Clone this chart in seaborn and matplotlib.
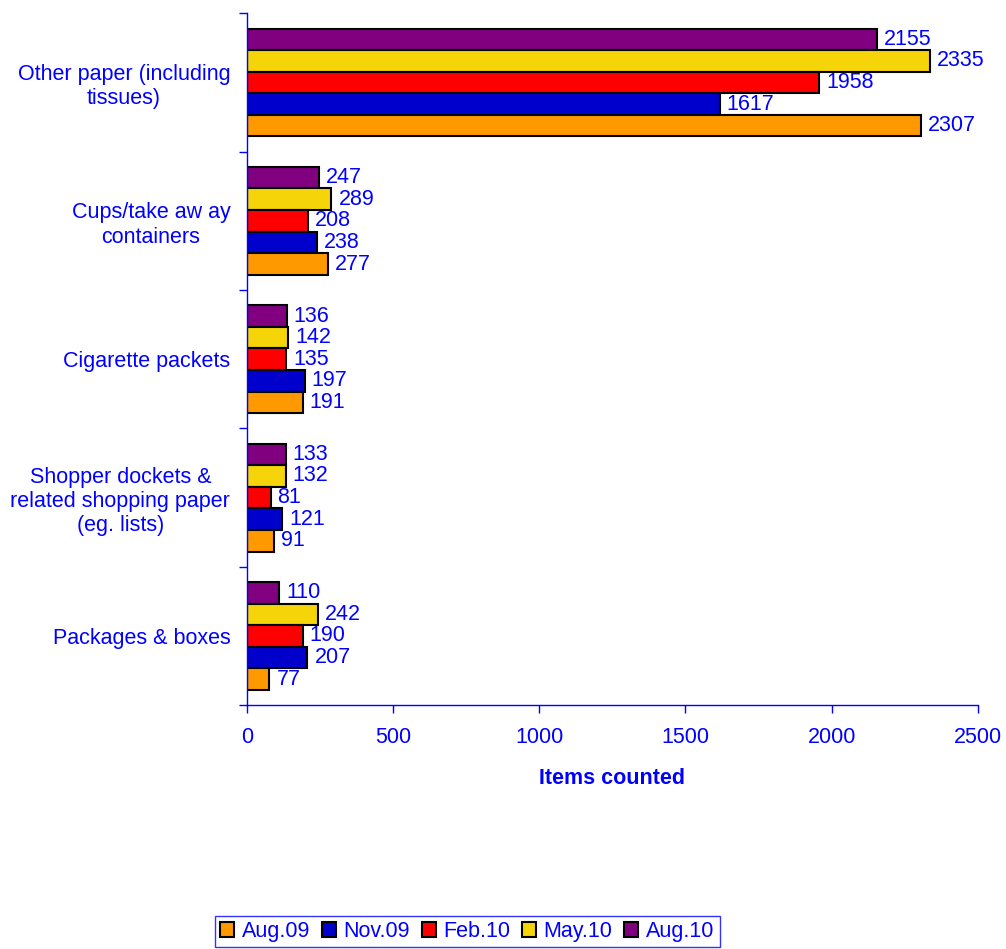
import pandas as pd
import numpy as np
import matplotlib.pyplot as plt
import seaborn as sns
from matplotlib.patches import Patch

# data
categories = ["Other paper (including\ntissues)", "Cups/take aw ay\ncontainers",
              "Cigarette packets", "Shopper dockets &\nrelated shopping paper\n(eg. lists)",
              "Packages & boxes"]
periods = ["Aug.09", "Nov.09", "Feb.10", "May.10", "Aug.10"]
aug09 = [2307, 277, 191, 91, 77]
nov09 = [1617, 238, 197, 121, 207]
feb10 = [1958, 208, 135, 81, 190]
may10 = [2335, 289, 142, 132, 242]
aug10 = [2155, 247, 136, 133, 110]
x_ticks = [0, 500, 1000, 1500, 2000, 2500]

colors = {"Aug.09": "#FF9900", "Nov.09": "#0000CC", "Feb.10": "#FF0000",
          "May.10": "#F5D50A", "Aug.10": "#800080"}
blue = "#0000FF"
fs = 15.5

series = {"Aug.09": aug09, "Nov.09": nov09, "Feb.10": feb10, "May.10": may10, "Aug.10": aug10}
rows = []
for p, vals in series.items():
    for c, v in zip(categories, vals):
        rows.append({"category": c, "period": p, "count": v})
df = pd.DataFrame(rows)

sns.set_style("white")
plt.rcParams['font.family'] = ['Liberation Sans', 'DejaVu Sans']

fig = plt.figure(figsize=(10.06, 9.49), dpi=100)
ax = fig.add_axes([0.2455, 0.257, 0.7265, 0.729])

# top-to-bottom inside each group: Aug.10 ... Aug.09
hue_order = periods[::-1]
sns.barplot(data=df, y="category", x="count", hue="period", order=categories,
            hue_order=hue_order, palette=colors, orient="h", width=0.78,
            edgecolor="black", linewidth=1.5, saturation=1, ax=ax, legend=False)

for cont in ax.containers:
    ax.bar_label(cont, padding=5, color=blue, fontsize=fs)

ax.set_xlim(0, 2500)
ax.set_ylim(len(categories) - 0.5, -0.5)
ax.set_xticks(x_ticks)
ax.set_xticklabels([str(t) for t in x_ticks])
ax.set_yticks(np.arange(len(categories) + 1) - 0.5, minor=False)
ax.set_yticklabels([])
ax.set_yticks(np.arange(len(categories)), minor=True)
ax.set_yticklabels(categories, minor=True, multialignment="center")
ax.tick_params(axis="y", which="minor", length=0, pad=12, labelcolor=blue, labelsize=fs)
ax.tick_params(axis="y", which="major", length=6, width=1, color=blue, direction="out", left=True)
ax.tick_params(axis="x", length=6, width=1, color=blue, direction="out", bottom=True,
               labelcolor=blue, labelsize=fs, pad=10)

for s in ["top", "right"]:
    ax.spines[s].set_visible(False)
for s in ["left", "bottom"]:
    ax.spines[s].set_color(blue)
    ax.spines[s].set_linewidth(1)

ax.set_xlabel("Items counted", color=blue, fontsize=fs, fontweight="bold", labelpad=14)
ax.set_ylabel("")

handles = [Patch(facecolor=colors[p], edgecolor="black", linewidth=1.5, label=p) for p in periods]
leg = fig.legend(handles=handles, loc="center", bbox_to_anchor=(0.4645, 0.0185),
                 ncol=5, frameon=True, fontsize=fs, handlelength=0.65, handleheight=0.65,
                 handletextpad=0.35, columnspacing=0.55, borderpad=0.25, fancybox=False)
leg.get_frame().set_edgecolor(blue)
leg.get_frame().set_linewidth(1)
for t in leg.get_texts():
    t.set_color(blue)

fig.savefig("out.png", dpi=100)
